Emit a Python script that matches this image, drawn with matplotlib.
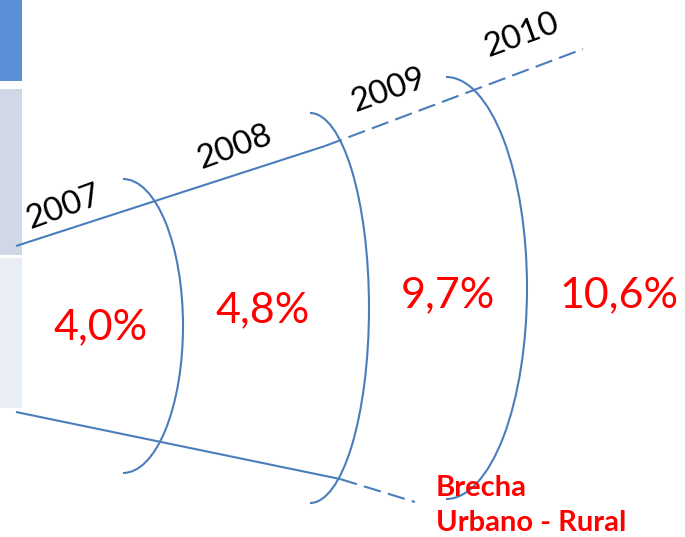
import matplotlib.pyplot as plt
from matplotlib.patches import Arc, Rectangle

# datos
years = ["2007", "2008", "2009", "2010"]
gap = [4.0, 4.8, 9.7, 10.6]
note = ["Brecha", "Urbano - Rural"]

# posiciones (pixeles de la imagen)
year_pos = [(64, 207), (235, 147), (389, 90), (522, 35)]
gap_pos = [(101, 327), (263, 310), (448, 295), (619, 295)]
arcs = [(123, 326, 60, 147), (310, 308, 59, 195), (446, 288, 81, 211)]

BLUE = "#4A7EBB"
RED = "#FF0000"

plt.rcParams['font.family'] = ['Lato', 'DejaVu Sans']

fig = plt.figure(figsize=(6.85, 5.37), dpi=100)
ax = fig.add_axes([0, 0, 1, 1])
ax.set_xlim(0, 685)
ax.set_ylim(537, 0)
ax.axis("off")

# barras de la izquierda
ax.add_patch(Rectangle((0, 0), 22, 81, color="#5A8FD6", lw=0))
ax.add_patch(Rectangle((0, 89), 22, 166, color="#D0D8E8", lw=0))
ax.add_patch(Rectangle((0, 258), 22, 150, color="#E9EDF4", lw=0))

# lineas del cono
dash = (0, (8.5, 3.5))
ax.plot([16, 325], [246, 146], color=BLUE, lw=1.5, solid_capstyle="butt")
ax.plot([325, 583], [146, 49], color=BLUE, lw=1.5, ls=dash)
ax.plot([16, 340], [412, 479], color=BLUE, lw=1.5, solid_capstyle="butt")
ax.plot([340, 415], [479, 502], color=BLUE, lw=1.5, ls=dash)

# arcos
for cx, cy, a, b in arcs:
    ax.add_patch(Arc((cx, cy), 2 * a, 2 * b, theta1=-90, theta2=90,
                     color=BLUE, lw=1.5))

for y, (x, yy) in zip(years, year_pos):
    ax.text(x, yy, y, fontsize=24, rotation=20, ha="center", va="center",
            rotation_mode="anchor")

for g, (x, yy) in zip(gap, gap_pos):
    ax.text(x, yy, f"{g:.1f}%".replace(".", ","), fontsize=31, color=RED,
            ha="center", va="center")

ax.text(436, 496, note[0], fontsize=21, color=RED, fontweight="bold",
        ha="left", va="baseline")
ax.text(436, 531, note[1], fontsize=21, color=RED, fontweight="bold",
        ha="left", va="baseline")

fig.savefig("out.png", dpi=100)
